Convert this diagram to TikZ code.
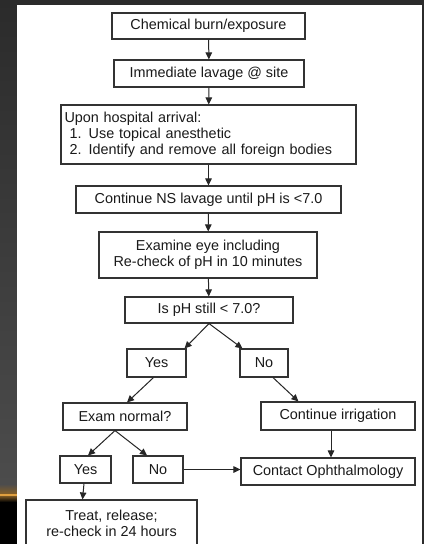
\documentclass[tikz,border=0pt]{standalone}
\usepackage{fontspec}
\setmainfont{Liberation Sans}
\usetikzlibrary{arrows.meta,calc}
\definecolor{frame}{HTML}{2B2B2B}
\definecolor{boxline}{HTML}{333333}
\definecolor{txt}{HTML}{1A1A1A}
\definecolor{glow}{HTML}{E0A040}
\begin{document}
\begin{tikzpicture}[x=1pt,y=-1pt,
  fbox/.style={draw=boxline,line width=1.1pt,fill=white,text=txt,inner sep=0pt,
    font=\fontsize{14.4}{15.8}\selectfont,align=center},
  conn/.style={draw=black!85,line width=1pt,-{Triangle[length=7pt,width=6.5pt]}}]
\useasboundingbox (0,0) rectangle (424,544);
% background frame
\fill[frame] (0,0) rectangle (424,544);
\shade[top color=frame,middle color=black!95,bottom color=black!70] (0,0) rectangle (17,492);
\fill[black] (0,492) rectangle (17,544);
\shade[top color=black!70,bottom color=glow!60!black] (0,484) rectangle (17,494);
\fill[glow] (0,494) rectangle (17,496.5);
\shade[top color=glow!50!black,bottom color=black] (0,496.5) rectangle (17,502);
\fill[white] (17,5) rectangle (422,544);
% nodes
\node[fbox,minimum width=193pt,minimum height=26pt] (b1) at (208.5,26) {Chemical burn/exposure};
\node[fbox,minimum width=190pt,minimum height=27pt] (b2) at (209,73.5) {Immediate lavage @ site};
\node[fbox,minimum width=295pt,minimum height=59pt,align=left,text width=288pt] (b3) at (208.5,134.5)
  {Upon hospital arrival:\\\hspace*{5pt}1. Use topical anesthetic\\\hspace*{5pt}2. Identify and remove all foreign bodies};
\node[fbox,minimum width=265pt,minimum height=27pt] (b4) at (208.5,199.5) {Continue NS lavage until pH is <7.0};
\node[fbox,minimum width=218pt,minimum height=46pt] (b5) at (208,255) {Examine eye including\\Re-check of pH in 10 minutes};
\node[fbox,minimum width=168pt,minimum height=26pt] (b6) at (209,310) {Is pH still < 7.0?};
\node[fbox,minimum width=59pt,minimum height=28pt] (yes) at (156.5,363) {Yes};
\node[fbox,minimum width=48pt,minimum height=28pt] (no) at (264,363) {No};
\node[fbox,minimum width=124pt,minimum height=27pt] (exam) at (125,416.5) {Exam normal?};
\node[fbox,minimum width=154pt,minimum height=28pt] (irr) at (338,416) {Continue irrigation};
\node[fbox,minimum width=51pt,minimum height=27pt] (yes2) at (85.5,469.5) {Yes};
\node[fbox,minimum width=50pt,minimum height=27pt] (no2) at (158,469.5) {No};
\node[fbox,minimum width=174pt,minimum height=27pt] (contact) at (328,471.5) {Contact Ophthalmology};
\node[fbox,minimum width=171pt,minimum height=46pt] (treat) at (111.5,523) {Treat, release;\\re-check in 24 hours};
% connectors
\draw[conn] (b1) -- (b2);
\draw[conn] (b2) -- (b3);
\draw[conn] (b3) -- (b4);
\draw[conn] (b4) -- (b5);
\draw[conn] (b5) -- (b6);
\draw[conn] (b6.south) -- ($(yes.north east)+(-2,0)$);
\draw[conn] (b6.south) -- ($(no.north west)+(3,0)$);
\draw[conn] ($(yes.south)+(-3,0)$) -- ($(exam.north)+(2,0)$);
\draw[conn] ($(no.south)+(9,0)$) -- ($(irr.north west)+(38,0)$);
\draw[conn] ($(exam.south)+(-10,0)$) -- ($(yes2.north)+(2.5,0)$);
\draw[conn] ($(exam.south)+(-10,0)$) -- ($(no2.north)+(-11,0)$);
\draw[conn] ($(irr.south)+(-7,0)$) -- ($(contact.north)+(3,0)$);
\draw[conn] (no2.east) -- (contact.west |- no2.east);
\draw[conn] ($(yes2.south)+(-1.5,0)$) -- ($(treat.north)+(-29,0)$);
\end{tikzpicture}
\end{document}
